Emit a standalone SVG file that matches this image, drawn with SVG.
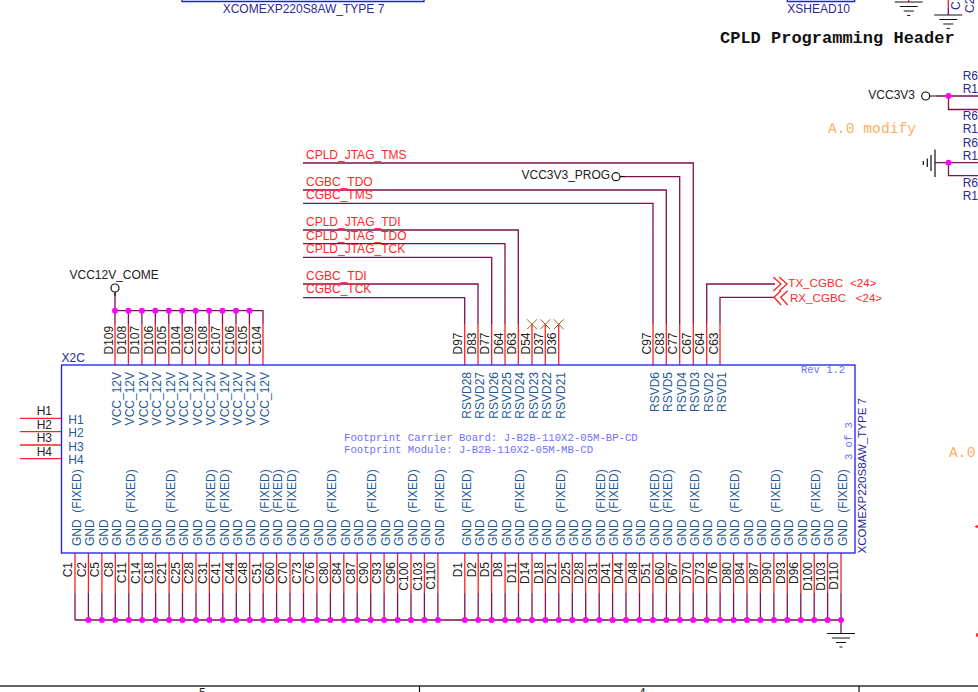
<svg xmlns="http://www.w3.org/2000/svg" width="978" height="692" viewBox="0 0 978 692">
<defs>
<style>
text{font-family:"Liberation Sans",Arial,sans-serif;font-size:12px;white-space:pre}
.m{font-family:"Liberation Mono","Courier New",monospace}
.bk{fill:#222}
.pn{fill:#1f5a96}
.nv{fill:#2a2a96}
.rd{fill:#ff2828}
.or{fill:#ffae62}
.lb{fill:#6f6fff}
.w{fill:none;stroke:#80104f;stroke-width:1.3}
.p{fill:none;stroke:#ff2020;stroke-width:1.3}
.b{fill:none;stroke:#1a1aff;stroke-width:1.3}
.k{fill:none;stroke:#111;stroke-width:1.2}
.x{fill:none;stroke:#a0601e;stroke-width:1}
.d{fill:#ff00ff}
</style>
<g id="gs"><path class="k" d="M-14 0H14M-9 4.5H9M-5 9H5M-1.500 13.500H1.500"/></g>
</defs>
<rect width="978" height="692" fill="#fff"/>
<g id="connectors">
<path class="w" d="M303 163H693.300V324M303 190H666.300V324M303 203.300H653V324M303 230H518.300V324M303 243.700H505V324M303 257.300H491.700V324M303 284H478V324M303 297.700H464.700V324"/>
<path class="w" d="M625 176.700H679.700V324M775 284H706.700V324M775 297.300H720V324"/>
<path class="w" d="M115 293V324M115 310.700H263V324M128.400 310.700V324M141.900 310.700V324M155.300 310.700V324M168.800 310.700V324M182.200 310.700V324M195.600 310.700V324M209.100 310.700V324M222.500 310.700V324M236 310.700V324M249.400 310.700V324"/>
<path class="p" d="M115 324V365M128.400 324V365M141.900 324V365M155.300 324V365M168.800 324V365M182.200 324V365M195.600 324V365M209.100 324V365M222.500 324V365M236 324V365M249.400 324V365M263 324V365"/>
<path class="p" d="M464.700 324V365M478 324V365M491.700 324V365M505 324V365M518.300 324V365M532 324V365M545.300 324V365M558.700 324V365M653 324V365M666.300 324V365M679.700 324V365M693.300 324V365M706.700 324V365M720 324V365"/>
<path class="p" d="M20 418.300H61.500M20 431.700H61.500M20 445H61.500M20 458.700H61.500"/>
<path class="w" d="M75 620H841V633M75 593V620M88.400 593V620M101.900 593V620M115.300 593V620M128.800 593V620M142.200 593V620M155.600 593V620M169.100 593V620M182.500 593V620M196 593V620M209.400 593V620M222.800 593V620M236.300 593V620M249.700 593V620M263.200 593V620M276.600 593V620M290 593V620M303.500 593V620M316.900 593V620M330.400 593V620M343.800 593V620M357.200 593V620M370.700 593V620M384.100 593V620M397.600 593V620M411 593V620M424.400 593V620M437.900 593V620M464.800 593V620M478.200 593V620M491.600 593V620M505.100 593V620M518.500 593V620M532 593V620M545.400 593V620M558.800 593V620M572.300 593V620M585.700 593V620M599.200 593V620M612.600 593V620M626 593V620M639.500 593V620M652.900 593V620M666.400 593V620M679.800 593V620M693.200 593V620M706.700 593V620M720.100 593V620M733.600 593V620M747 593V620M760.400 593V620M773.900 593V620M787.300 593V620M800.800 593V620M814.200 593V620M827.600 593V620M841 593V620"/>
<path class="p" d="M75 553V593M88.400 553V593M101.900 553V593M115.300 553V593M128.800 553V593M142.200 553V593M155.600 553V593M169.100 553V593M182.500 553V593M196 553V593M209.400 553V593M222.800 553V593M236.300 553V593M249.700 553V593M263.200 553V593M276.600 553V593M290 553V593M303.500 553V593M316.900 553V593M330.400 553V593M343.800 553V593M357.200 553V593M370.700 553V593M384.100 553V593M397.600 553V593M411 553V593M424.400 553V593M437.900 553V593M464.800 553V593M478.200 553V593M491.600 553V593M505.100 553V593M518.500 553V593M532 553V593M545.400 553V593M558.800 553V593M572.300 553V593M585.700 553V593M599.200 553V593M612.600 553V593M626 553V593M639.500 553V593M652.900 553V593M666.400 553V593M679.800 553V593M693.200 553V593M706.700 553V593M720.100 553V593M733.600 553V593M747 553V593M760.400 553V593M773.900 553V593M787.300 553V593M800.800 553V593M814.200 553V593M827.600 553V593M841 553V593"/>
<path class="w" d="M936 96H978M948.500 96V109.500H978M935 162.700H978M948.500 162.700V175.700H978"/>
<path class="p" d="M908.700 0V2M948.300 0V8"/>
<path class="w" d="M948.300 8V15"/>
<path class="k" d="M115 292V296M620 176.700H625M930 96H936"/>
</g>
<g id="junctions">
<g class="d"><circle cx="115" cy="310.700" r="3"/><circle cx="128.400" cy="310.700" r="3"/><circle cx="141.900" cy="310.700" r="3"/><circle cx="155.300" cy="310.700" r="3"/><circle cx="168.800" cy="310.700" r="3"/><circle cx="182.200" cy="310.700" r="3"/><circle cx="195.600" cy="310.700" r="3"/><circle cx="209.100" cy="310.700" r="3"/><circle cx="222.500" cy="310.700" r="3"/><circle cx="236" cy="310.700" r="3"/><circle cx="249.400" cy="310.700" r="3"/>
<circle cx="948.500" cy="96" r="3"/><circle cx="948.500" cy="162.700" r="3"/>
<circle cx="88.400" cy="620" r="3"/><circle cx="101.900" cy="620" r="3"/><circle cx="115.300" cy="620" r="3"/><circle cx="128.800" cy="620" r="3"/><circle cx="142.200" cy="620" r="3"/><circle cx="155.600" cy="620" r="3"/><circle cx="169.100" cy="620" r="3"/><circle cx="182.500" cy="620" r="3"/><circle cx="196" cy="620" r="3"/><circle cx="209.400" cy="620" r="3"/><circle cx="222.800" cy="620" r="3"/><circle cx="236.300" cy="620" r="3"/><circle cx="249.700" cy="620" r="3"/><circle cx="263.200" cy="620" r="3"/><circle cx="276.600" cy="620" r="3"/><circle cx="290" cy="620" r="3"/><circle cx="303.500" cy="620" r="3"/><circle cx="316.900" cy="620" r="3"/><circle cx="330.400" cy="620" r="3"/><circle cx="343.800" cy="620" r="3"/><circle cx="357.200" cy="620" r="3"/><circle cx="370.700" cy="620" r="3"/><circle cx="384.100" cy="620" r="3"/><circle cx="397.600" cy="620" r="3"/><circle cx="411" cy="620" r="3"/><circle cx="424.400" cy="620" r="3"/><circle cx="437.900" cy="620" r="3"/><circle cx="464.800" cy="620" r="3"/><circle cx="478.200" cy="620" r="3"/><circle cx="491.600" cy="620" r="3"/><circle cx="505.100" cy="620" r="3"/><circle cx="518.500" cy="620" r="3"/><circle cx="532" cy="620" r="3"/><circle cx="545.400" cy="620" r="3"/><circle cx="558.800" cy="620" r="3"/><circle cx="572.300" cy="620" r="3"/><circle cx="585.700" cy="620" r="3"/><circle cx="599.200" cy="620" r="3"/><circle cx="612.600" cy="620" r="3"/><circle cx="626" cy="620" r="3"/><circle cx="639.500" cy="620" r="3"/><circle cx="652.900" cy="620" r="3"/><circle cx="666.400" cy="620" r="3"/><circle cx="679.800" cy="620" r="3"/><circle cx="693.200" cy="620" r="3"/><circle cx="706.700" cy="620" r="3"/><circle cx="720.100" cy="620" r="3"/><circle cx="733.600" cy="620" r="3"/><circle cx="747" cy="620" r="3"/><circle cx="760.400" cy="620" r="3"/><circle cx="773.900" cy="620" r="3"/><circle cx="787.300" cy="620" r="3"/><circle cx="800.800" cy="620" r="3"/><circle cx="814.200" cy="620" r="3"/><circle cx="827.600" cy="620" r="3"/><circle cx="841" cy="620" r="3"/></g>
</g>
<g id="X2C">
<rect class="b" x="61.500" y="365" width="793.500" height="188"/>
<text class="nv" x="61.500" y="361.700">X2C</text>
<text class="lb m" style="font-size:10.500px" x="801" y="373.300">Rev 1.2</text>
<text class="lb m" style="font-size:10.650px" x="344" y="441">Footprint Carrier Board: J-B2B-110X2-05M-BP-CD</text>
<text class="lb m" style="font-size:10.650px" x="344" y="453">Footprint Module: J-B2B-110X2-05M-MB-CD</text>
<text class="lb m" style="font-size:10.500px" transform="translate(851.500 460) rotate(-90)">3 of 3</text>
<text class="nv" style="font-size:11.550px" transform="translate(866 553.500) rotate(-90)">XCOMEXP220S8AW_TYPE 7</text>
<g class="bk">
<text x="36.700" y="415.300">H1</text><text x="36.700" y="428.700">H2</text><text x="36.700" y="442">H3</text><text x="36.700" y="455.700">H4</text>
</g>
<g class="pn">
<text x="68.300" y="424">H1</text><text x="68.300" y="437.400">H2</text><text x="68.300" y="450.900">H3</text><text x="68.300" y="464.300">H4</text>
</g>
<g class="pn" text-anchor="end">
<text transform="translate(121 372) rotate(-90)">VCC_12V</text><text transform="translate(134.400 372) rotate(-90)">VCC_12V</text><text transform="translate(147.900 372) rotate(-90)">VCC_12V</text><text transform="translate(161.300 372) rotate(-90)">VCC_12V</text><text transform="translate(174.800 372) rotate(-90)">VCC_12V</text><text transform="translate(188.200 372) rotate(-90)">VCC_12V</text><text transform="translate(201.600 372) rotate(-90)">VCC_12V</text><text transform="translate(215.100 372) rotate(-90)">VCC_12V</text><text transform="translate(228.500 372) rotate(-90)">VCC_12V</text><text transform="translate(242 372) rotate(-90)">VCC_12V</text><text transform="translate(255.400 372) rotate(-90)">VCC_12V</text><text transform="translate(269 372) rotate(-90)">VCC_12V</text>
<text transform="translate(470.700 372) rotate(-90)">RSVD28</text><text transform="translate(484 372) rotate(-90)">RSVD27</text><text transform="translate(497.700 372) rotate(-90)">RSVD26</text><text transform="translate(511 372) rotate(-90)">RSVD25</text><text transform="translate(524.300 372) rotate(-90)">RSVD24</text><text transform="translate(538 372) rotate(-90)">RSVD23</text><text transform="translate(551.300 372) rotate(-90)">RSVD22</text><text transform="translate(564.700 372) rotate(-90)">RSVD21</text>
<text transform="translate(658.700 372) rotate(-90)">RSVD6</text><text transform="translate(672.300 372) rotate(-90)">RSVD5</text><text transform="translate(685.700 372) rotate(-90)">RSVD4</text><text transform="translate(699.300 372) rotate(-90)">RSVD3</text><text transform="translate(712.700 372) rotate(-90)">RSVD2</text><text transform="translate(726 372) rotate(-90)">RSVD1</text>
</g>
<g class="pn">
<text transform="translate(80.700 546) rotate(-90)">GND  (FIXED)</text><text transform="translate(94.100 546) rotate(-90)">GND</text><text transform="translate(107.600 546) rotate(-90)">GND</text><text transform="translate(121 546) rotate(-90)">GND</text><text transform="translate(134.500 546) rotate(-90)">GND  (FIXED)</text><text transform="translate(147.900 546) rotate(-90)">GND</text><text transform="translate(161.300 546) rotate(-90)">GND</text><text transform="translate(174.800 546) rotate(-90)">GND  (FIXED)</text><text transform="translate(188.200 546) rotate(-90)">GND</text><text transform="translate(201.700 546) rotate(-90)">GND</text><text transform="translate(215.100 546) rotate(-90)">GND  (FIXED)</text><text transform="translate(228.500 546) rotate(-90)">GND  (FIXED)</text><text transform="translate(242 546) rotate(-90)">GND</text><text transform="translate(255.400 546) rotate(-90)">GND</text><text transform="translate(268.900 546) rotate(-90)">GND  (FIXED)</text><text transform="translate(282.300 546) rotate(-90)">GND  (FIXED)</text><text transform="translate(295.700 546) rotate(-90)">GND  (FIXED)</text><text transform="translate(309.200 546) rotate(-90)">GND</text><text transform="translate(322.600 546) rotate(-90)">GND</text><text transform="translate(336.100 546) rotate(-90)">GND  (FIXED)</text><text transform="translate(349.500 546) rotate(-90)">GND</text><text transform="translate(362.900 546) rotate(-90)">GND</text><text transform="translate(376.400 546) rotate(-90)">GND  (FIXED)</text><text transform="translate(389.800 546) rotate(-90)">GND</text><text transform="translate(403.300 546) rotate(-90)">GND</text><text transform="translate(416.700 546) rotate(-90)">GND  (FIXED)</text><text transform="translate(430.100 546) rotate(-90)">GND</text><text transform="translate(443.600 546) rotate(-90)">GND  (FIXED)</text>
<text transform="translate(470.500 546) rotate(-90)">GND  (FIXED)</text><text transform="translate(483.900 546) rotate(-90)">GND</text><text transform="translate(497.300 546) rotate(-90)">GND</text><text transform="translate(510.800 546) rotate(-90)">GND</text><text transform="translate(524.200 546) rotate(-90)">GND  (FIXED)</text><text transform="translate(537.700 546) rotate(-90)">GND</text><text transform="translate(551.100 546) rotate(-90)">GND</text><text transform="translate(564.500 546) rotate(-90)">GND  (FIXED)</text><text transform="translate(578 546) rotate(-90)">GND</text><text transform="translate(591.400 546) rotate(-90)">GND</text><text transform="translate(604.900 546) rotate(-90)">GND  (FIXED)</text><text transform="translate(618.300 546) rotate(-90)">GND  (FIXED)</text><text transform="translate(631.700 546) rotate(-90)">GND</text><text transform="translate(645.200 546) rotate(-90)">GND</text><text transform="translate(658.600 546) rotate(-90)">GND  (FIXED)</text><text transform="translate(672.100 546) rotate(-90)">GND  (FIXED)</text><text transform="translate(685.500 546) rotate(-90)">GND</text><text transform="translate(698.900 546) rotate(-90)">GND  (FIXED)</text><text transform="translate(712.400 546) rotate(-90)">GND</text><text transform="translate(725.800 546) rotate(-90)">GND</text><text transform="translate(739.300 546) rotate(-90)">GND  (FIXED)</text><text transform="translate(752.700 546) rotate(-90)">GND</text><text transform="translate(766.100 546) rotate(-90)">GND</text><text transform="translate(779.600 546) rotate(-90)">GND  (FIXED)</text><text transform="translate(793 546) rotate(-90)">GND</text><text transform="translate(806.500 546) rotate(-90)">GND</text><text transform="translate(819.900 546) rotate(-90)">GND  (FIXED)</text><text transform="translate(833.300 546) rotate(-90)">GND</text><text transform="translate(846.700 546) rotate(-90)">GND  (FIXED)</text>
</g>
<g class="bk">
<text transform="translate(112.500 354.500) rotate(-90)">D109</text><text transform="translate(125.900 354.500) rotate(-90)">D108</text><text transform="translate(139.400 354.500) rotate(-90)">D107</text><text transform="translate(152.800 354.500) rotate(-90)">D106</text><text transform="translate(166.300 354.500) rotate(-90)">D105</text><text transform="translate(179.700 354.500) rotate(-90)">D104</text><text transform="translate(193.100 354.500) rotate(-90)">C109</text><text transform="translate(206.600 354.500) rotate(-90)">C108</text><text transform="translate(220 354.500) rotate(-90)">C107</text><text transform="translate(233.500 354.500) rotate(-90)">C106</text><text transform="translate(246.900 354.500) rotate(-90)">C105</text><text transform="translate(260.500 354.500) rotate(-90)">C104</text>
<text transform="translate(462.200 354.500) rotate(-90)">D97</text><text transform="translate(475.500 354.500) rotate(-90)">D83</text><text transform="translate(489.200 354.500) rotate(-90)">D77</text><text transform="translate(502.500 354.500) rotate(-90)">D64</text><text transform="translate(515.800 354.500) rotate(-90)">D63</text><text transform="translate(529.500 354.500) rotate(-90)">D54</text><text transform="translate(542.800 354.500) rotate(-90)">D37</text><text transform="translate(556.200 354.500) rotate(-90)">D36</text>
<text transform="translate(650.500 354.500) rotate(-90)">C97</text><text transform="translate(663.800 354.500) rotate(-90)">C83</text><text transform="translate(677.200 354.500) rotate(-90)">C77</text><text transform="translate(690.800 354.500) rotate(-90)">C67</text><text transform="translate(704.200 354.500) rotate(-90)">C64</text><text transform="translate(717.500 354.500) rotate(-90)">C63</text>
</g>
<g class="bk" text-anchor="end">
<text transform="translate(72.300 562) rotate(-90)">C1</text><text transform="translate(85.700 562) rotate(-90)">C2</text><text transform="translate(99.200 562) rotate(-90)">C5</text><text transform="translate(112.600 562) rotate(-90)">C8</text><text transform="translate(126.100 562) rotate(-90)">C11</text><text transform="translate(139.500 562) rotate(-90)">C14</text><text transform="translate(152.900 562) rotate(-90)">C18</text><text transform="translate(166.400 562) rotate(-90)">C21</text><text transform="translate(179.800 562) rotate(-90)">C25</text><text transform="translate(193.300 562) rotate(-90)">C28</text><text transform="translate(206.700 562) rotate(-90)">C31</text><text transform="translate(220.100 562) rotate(-90)">C41</text><text transform="translate(233.600 562) rotate(-90)">C44</text><text transform="translate(247 562) rotate(-90)">C48</text><text transform="translate(260.500 562) rotate(-90)">C51</text><text transform="translate(273.900 562) rotate(-90)">C60</text><text transform="translate(287.300 562) rotate(-90)">C70</text><text transform="translate(300.800 562) rotate(-90)">C73</text><text transform="translate(314.200 562) rotate(-90)">C76</text><text transform="translate(327.700 562) rotate(-90)">C80</text><text transform="translate(341.100 562) rotate(-90)">C84</text><text transform="translate(354.500 562) rotate(-90)">C87</text><text transform="translate(368 562) rotate(-90)">C90</text><text transform="translate(381.400 562) rotate(-90)">C93</text><text transform="translate(394.900 562) rotate(-90)">C96</text><text transform="translate(408.300 562) rotate(-90)">C100</text><text transform="translate(421.700 562) rotate(-90)">C103</text><text transform="translate(435.200 562) rotate(-90)">C110</text>
<text transform="translate(462.100 562) rotate(-90)">D1</text><text transform="translate(475.500 562) rotate(-90)">D2</text><text transform="translate(488.900 562) rotate(-90)">D5</text><text transform="translate(502.400 562) rotate(-90)">D8</text><text transform="translate(515.800 562) rotate(-90)">D11</text><text transform="translate(529.300 562) rotate(-90)">D14</text><text transform="translate(542.700 562) rotate(-90)">D18</text><text transform="translate(556.100 562) rotate(-90)">D21</text><text transform="translate(569.600 562) rotate(-90)">D25</text><text transform="translate(583 562) rotate(-90)">D28</text><text transform="translate(596.500 562) rotate(-90)">D31</text><text transform="translate(609.900 562) rotate(-90)">D41</text><text transform="translate(623.300 562) rotate(-90)">D44</text><text transform="translate(636.800 562) rotate(-90)">D48</text><text transform="translate(650.200 562) rotate(-90)">D51</text><text transform="translate(663.700 562) rotate(-90)">D60</text><text transform="translate(677.100 562) rotate(-90)">D67</text><text transform="translate(690.500 562) rotate(-90)">D70</text><text transform="translate(704 562) rotate(-90)">D73</text><text transform="translate(717.400 562) rotate(-90)">D76</text><text transform="translate(730.900 562) rotate(-90)">D80</text><text transform="translate(744.300 562) rotate(-90)">D84</text><text transform="translate(757.700 562) rotate(-90)">D87</text><text transform="translate(771.200 562) rotate(-90)">D90</text><text transform="translate(784.600 562) rotate(-90)">D93</text><text transform="translate(798.100 562) rotate(-90)">D96</text><text transform="translate(811.500 562) rotate(-90)">D100</text><text transform="translate(824.900 562) rotate(-90)">D103</text><text transform="translate(838.300 562) rotate(-90)">D110</text>
</g>
<path class="x" d="M527 319.300L537 329.300M527 329.300L537 319.300M540.300 319.300L550.300 329.300M540.300 329.300L550.300 319.300M553.700 319.300L563.700 329.300M553.700 329.300L563.700 319.300"/>
</g>
<g id="net-labels" class="rd">
<text x="306" y="159.300">CPLD_JTAG_TMS</text>
<text x="306" y="186">CGBC_TDO</text>
<text x="306" y="199.300">CGBC_TMS</text>
<text x="306" y="226">CPLD_JTAG_TDI</text>
<text x="306" y="240">CPLD_JTAG_TDO</text>
<text x="306" y="252.700">CPLD_JTAG_TCK</text>
<text x="306" y="280">CGBC_TDI</text>
<text x="306" y="293.300">CGBC_TCK</text>
<text style="font-size:11.600px" x="788.300" y="286.700">TX_CGBC</text>
<text style="font-size:11.600px" x="850" y="286.700">&lt;24&gt;</text>
<text style="font-size:11.600px" x="790" y="301.700">RX_CGBC</text>
<text style="font-size:11.600px" x="855.700" y="301.700">&lt;24&gt;</text>
</g>
<g id="off-page-connectors">
<path class="p" d="M773.300 277L781 284L773.300 291M779.300 277L787 284L779.300 291M781 290.700L774 297.300L781 305M787.700 290.700L780.700 297.300L787.700 305"/>
</g>
<g id="VCC12V_COME">
<circle class="k" cx="115" cy="288" r="4"/>
<text class="bk" x="69.500" y="279.300">VCC12V_COME</text>
</g>
<g id="VCC3V3_PROG">
<circle class="k" cx="616" cy="176.700" r="4"/>
<text class="bk" x="521.500" y="179">VCC3V3_PROG</text>
</g>
<g id="VCC3V3">
<circle class="k" cx="925.700" cy="96" r="4"/>
<text class="bk" x="868.300" y="99">VCC3V3</text>
</g>
<g id="gnd-bus"><use href="#gs" x="841" y="633.500"/></g>
<g id="gnd-top1"><use href="#gs" x="908.700" y="2"/></g>
<g id="gnd-top2"><use href="#gs" x="948.300" y="15"/></g>
<g id="gnd-left"><path class="k" d="M935 149.500V177M931 155V171M927.300 158.500V167M923.300 161V165"/></g>
<g id="top-part">
<path class="b" d="M182 -2V1.500H424V-2"/>
<text class="nv" x="222.700" y="13.300">XCOMEXP220S8AW_TYPE 7</text>
</g>
<g id="xshead">
<path class="b" d="M787.300 -2V1.500H854.700V-2"/>
<text class="nv" x="787.300" y="12.700">XSHEAD10</text>
</g>
<g id="caps">
<text class="nv" transform="translate(960 10) rotate(-90)">C</text>
<text class="nv" transform="translate(973.500 13) rotate(-90)">C2</text>
</g>
<text class="m" style="font-size:17px;font-weight:bold" fill="#111" x="720" y="42.700">CPLD Programming Header</text>
<text class="m or" style="font-size:14.700px" x="828" y="133.300">A.0 modify</text>
<text class="m or" style="font-size:14.700px" x="949" y="456.700">A.0</text>
<g id="resistor-labels" class="nv">
<text x="962.700" y="80">R64</text><text x="962.700" y="93.300">R11</text>
<text x="962.700" y="120">R64</text><text x="962.700" y="133.300">R11</text>
<text x="962.700" y="147">R64</text><text x="962.700" y="160">R11</text>
<text x="962.700" y="187">R64</text><text x="962.700" y="200">R11</text>
</g>
<path class="p" d="M975 526.700H978M977 525V528M976 635H978M977 633V637"/>
<g id="frame">
<path d="M0 686H978" fill="none" stroke="#333" stroke-width="1.500"/>
<path class="k" d="M419.500 686V692M859 686V692"/>
<text class="bk" x="199" y="697">5</text>
<text class="bk" x="639" y="697">4</text>
</g>
</svg>
